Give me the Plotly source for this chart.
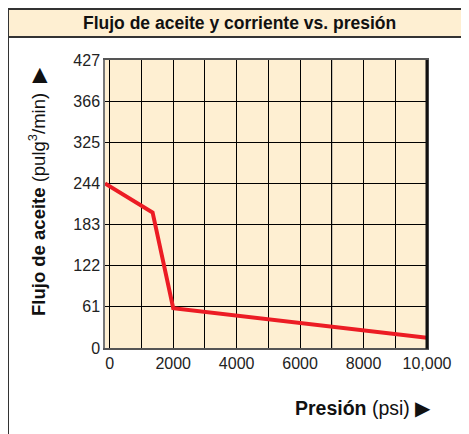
import plotly.graph_objects as go

# oil flow vs pressure
presion = [-150, 1350, 2000, 10000]
flujo = [244, 201, 59, 15]

x_ticks = [0, 2000, 4000, 6000, 8000, 10000]
x_labels = ['0', '2000', '4000', '6000', '8000', '10,000']
y_ticks = [0, 61, 122, 183, 244, 305, 366, 427]
y_labels = ['0', '61', '122', '183', '244', '325', '366', '427']

OFF = 8  # page body margin
W, H = 469 - OFF, 434 - OFF
L, R, T, B = 105 - OFF, 427 - OFF, 60 - OFF, 348 - OFF  # plot area in figure pixels

def px(x):
    # page pixel -> paper x
    return (x - OFF - L) / (R - L)

def py(y):
    # page pixel -> paper y
    return (B - (y - OFF)) / (B - T)

fill = '#feefd2'
font = 'Liberation Sans, Arial, sans-serif'

fig = go.Figure()
fig.add_trace(go.Scatter(x=presion, y=flujo, mode='lines',
                         line=dict(color='#ec1c24', width=4), hoverinfo='skip'))

shapes = [
    # title band
    dict(type='rect', xref='paper', yref='paper', x0=px(8), x1=px(470), y0=py(37), y1=py(9),
         fillcolor=fill, line=dict(width=0), layer='below'),
    dict(type='line', xref='paper', yref='paper', x0=px(8), x1=px(470), y0=py(9), y1=py(9),
         line=dict(color='#333', width=2)),
    dict(type='line', xref='paper', yref='paper', x0=px(8), x1=px(470), y0=py(37), y1=py(37),
         line=dict(color='#333', width=2)),
    dict(type='line', xref='paper', yref='paper', x0=px(8), x1=px(8), y0=py(8), y1=py(440),
         line=dict(color='#333', width=2)),
    # gray grid line at 7000
    dict(type='line', xref='x', yref='paper', x0=7000, x1=7000, y0=0, y1=1,
         line=dict(color='#8a8a8a', width=1.3), layer='between'),
    # thick right edge
    dict(type='line', xref='paper', yref='paper', x0=1, x1=1, y0=-0.003, y1=1,
         line=dict(color='#111', width=3)),
]

annotations = [
    dict(text='<b>Flujo de aceite y corriente vs. presión</b>', xref='paper', yref='paper',
         x=px(239), y=py(23), xanchor='center', yanchor='middle', showarrow=False,
         font=dict(size=17.5, color='#111', family=font)),
    dict(text='<b>Flujo de aceite</b> (pulg<sup>3</sup>/min)  <span style="font-size:20px">▶</span>',
         xref='paper', yref='paper',
         x=px(37), y=py(192), xanchor='center', yanchor='middle', textangle=-90,
         showarrow=False, font=dict(size=18.5, color='#111', family=font)),
    dict(text='<b>Presión</b> (psi) ▶', xref='paper', yref='paper', x=px(433), y=py(408),
         xanchor='right', yanchor='middle', showarrow=False,
         font=dict(size=19.5, color='#111', family=font)),
]

fig.update_layout(
    width=W, height=H,
    margin=dict(l=L, r=W - R, t=T, b=H - B, autoexpand=False),
    paper_bgcolor='white', plot_bgcolor=fill,
    showlegend=False,
    shapes=shapes, annotations=annotations,
    xaxis=dict(range=[-150, 10000], showgrid=True, gridcolor='#000',
               gridwidth=1.3, zeroline=False, showline=True, linecolor='#555', linewidth=1.5,
               mirror=True, tickmode='array', tickvals=x_ticks, ticktext=x_labels,
               ticks='', tickfont=dict(size=16, color='#222', family=font)),
    yaxis=dict(range=[0, 427], showgrid=True, gridcolor='#000', gridwidth=1.3, zeroline=False,
               showline=True, linecolor='#777', linewidth=1.5, mirror=True,
               tickmode='array', tickvals=y_ticks, ticktext=y_labels, ticks='',
               tickfont=dict(size=16, color='#222', family=font)),
)

# minor grid lines at every 1000 psi
fig.update_xaxes(minor=dict(dtick=1000, tick0=0, showgrid=True, gridcolor='#000', gridwidth=1.3))

fig.write_html('out.html')
